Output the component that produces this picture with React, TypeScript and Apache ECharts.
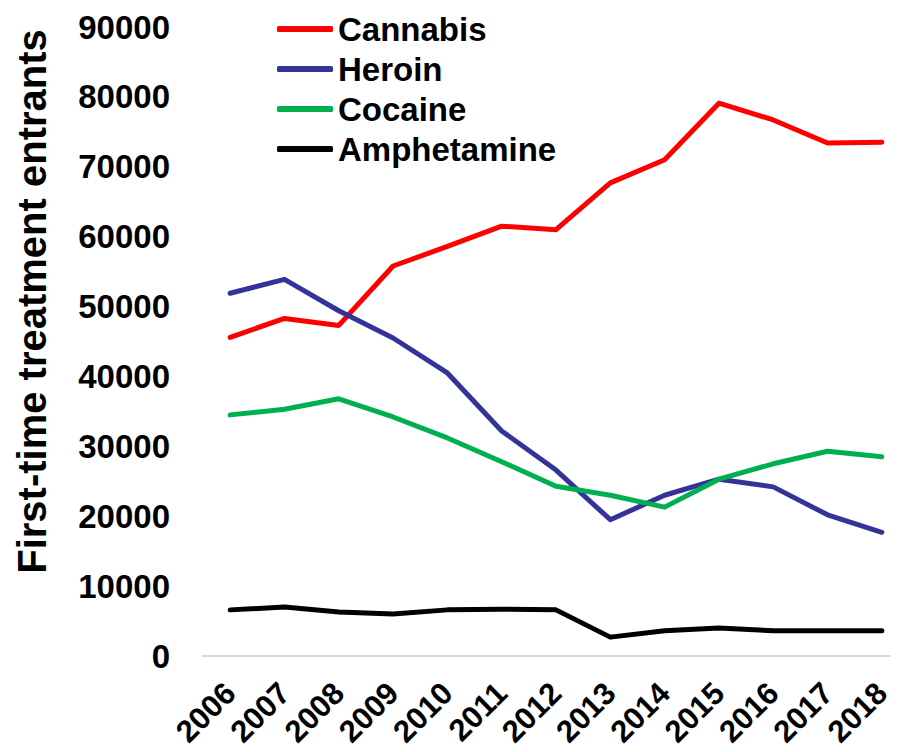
import React, { useEffect, useRef } from "react";
import * as echarts from "echarts";

const years = ["2006","2007","2008","2009","2010","2011","2012","2013","2014","2015","2016","2017","2018"];
const cannabis = [45600, 48300, 47300, 55800, 58600, 61500, 61000, 67700, 71000, 79100, 76700, 73400, 73500];
const heroin = [51900, 53900, 49400, 45500, 40500, 32200, 26600, 19500, 23000, 25300, 24200, 20200, 17700];
const cocaine = [34500, 35300, 36800, 34200, 31200, 27800, 24300, 23000, 21300, 25300, 27500, 29300, 28500];
const amphetamine = [6600, 7000, 6300, 6000, 6600, 6700, 6600, 2700, 3600, 4000, 3600, 3600, 3600];

const FONT = "'Liberation Sans', Arial, sans-serif";

export default function App() {
  const ref = useRef<HTMLDivElement>(null);
  useEffect(() => {
    if (!ref.current) return;
    const chart = echarts.init(ref.current, null, { renderer: "svg" });
    const mk = (name: string, data: number[], color: string) => ({
      name,
      type: "line",
      data,
      symbol: "none",
      lineStyle: { width: 5, color, cap: "round", join: "round" },
      itemStyle: { color },
    });
    chart.setOption({
      animation: false,
      backgroundColor: "#ffffff",
      textStyle: { fontFamily: FONT },
      legend: {
        orient: "vertical",
        left: 272,
        top: 7,
        itemWidth: 56,
        itemHeight: 6,
        itemGap: 6,
        icon: "roundRect",
        textStyle: { fontSize: 33, fontWeight: "bold", color: "#000", fontFamily: FONT, lineHeight: 34 },
        data: ["Cannabis", "Heroin", "Cocaine", "Amphetamine"],
      },
      grid: { left: 203, width: 706, top: 27, bottom: 752 - 656, outerBoundsMode: "none", containLabel: false },
      xAxis: {
        type: "category",
        data: years,
        boundaryGap: true,
        axisLine: { show: true, lineStyle: { color: "#d9d9d9", width: 2 } },
        axisTick: { show: false },
        axisLabel: { rotate: 45, fontSize: 31, fontWeight: "bold", color: "#000", fontFamily: FONT, margin: 32, interval: 0 },
      },
      yAxis: {
        type: "value",
        min: 0,
        max: 90000,
        interval: 10000,
        name: "First-time treatment entrants",
        nameLocation: "middle",
        nameGap: 151,
        nameTextStyle: { fontSize: 40, fontWeight: "bold", color: "#000", fontFamily: FONT, padding: [0, 0, 0, 80] },
        axisLine: { show: false },
        axisTick: { show: false },
        splitLine: { show: false },
        axisLabel: {
          fontSize: 33,
          fontWeight: "bold",
          color: "#000",
          fontFamily: FONT,
          margin: 33,
          formatter: (v: number) => String(v),
        },
      },
      series: [
        mk("Cannabis", cannabis, "#ff0000"),
        mk("Heroin", heroin, "#333399"),
        mk("Cocaine", cocaine, "#00b050"),
        mk("Amphetamine", amphetamine, "#000000"),
      ],
    });
    return () => chart.dispose();
  }, []);
  return <div ref={ref} style={{ width: 899, height: 752, margin: -8 }} />;
}
